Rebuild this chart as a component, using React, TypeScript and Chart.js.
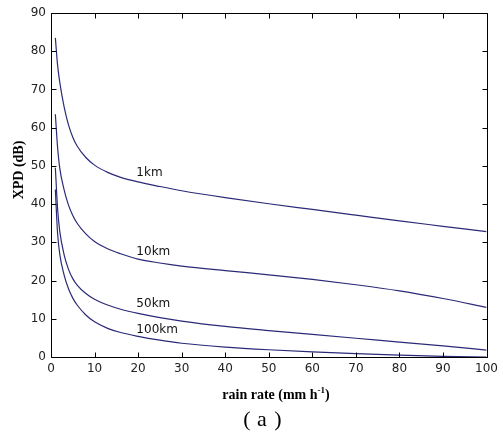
import React, { useEffect, useRef } from "react";
import { Chart, registerables } from "chart.js";

Chart.register(...registerables);

// Rain rate (mm/h)
const RAIN_RATE = [1, 1.5, 2, 3, 4, 5, 6, 8, 10, 13, 16, 20, 25, 30, 40, 50, 60, 70, 80, 90, 100];
// XPD (dB) per path length
const XPD_1KM = [83.5, 76.5, 72, 65.5, 60.8, 57.5, 55.2, 52.2, 50.2, 48.3, 47, 45.8, 44.6, 43.5, 41.7, 40.1, 38.6, 37.1, 35.6, 34.2, 32.8];
const XPD_10KM = [63.5, 55, 49.5, 43.8, 39.8, 37, 35, 32.2, 30.2, 28.3, 27, 25.6, 24.6, 23.8, 22.6, 21.5, 20.3, 18.9, 17.3, 15.3, 13];
const XPD_50KM = [49.5, 39, 33, 26.8, 23, 20.5, 18.8, 16.6, 15.1, 13.6, 12.5, 11.4, 10.3, 9.4, 8.0, 6.9, 5.9, 4.9, 3.9, 2.9, 1.8];
const XPD_100KM = [43.8, 32.5, 27, 21.5, 17.9, 15.4, 13.6, 11, 9.2, 7.5, 6.4, 5.4, 4.4, 3.6, 2.6, 1.9, 1.35, 0.9, 0.5, 0.15, 0];

const SERIES_NAMES = ["1km", "10km", "50km", "100km"];
const SERIES = [XPD_1KM, XPD_10KM, XPD_50KM, XPD_100KM];
// annotation anchors (data units) for curve labels
const LABEL_AT_X = [19.6, 19.6, 19.6, 19.6];
const LABEL_AT_Y = [48.2, 27.5, 13.9, 7.1];

const X_TICKS = [0, 10, 20, 30, 40, 50, 60, 70, 80, 90, 100];
const Y_TICKS = [0, 10, 20, 30, 40, 50, 60, 70, 80, 90];

const LINE_COLOR = "#2a2a78";
const SANS = '"DejaVu Sans", sans-serif';
const SERIF = '"Liberation Serif", "Times New Roman", serif';

const decorPlugin = {
  id: "decor",
  afterDraw(chart: any) {
    const { ctx, chartArea, scales } = chart;
    const { left, right, top, bottom } = chartArea;
    const xs = scales.x;
    const ys = scales.y;
    ctx.save();
    ctx.strokeStyle = "#000";
    ctx.lineWidth = 1;
    const L = Math.round(left) + 0.5;
    const R = Math.round(right) + 0.5;
    const T = Math.round(top) + 0.5;
    const B = Math.round(bottom) + 0.5;
    ctx.beginPath();
    ctx.rect(L, T, R - L, B - T);
    ctx.stroke();
    const tl = 5;
    ctx.beginPath();
    X_TICKS.forEach((v) => {
      const p = Math.round(xs.getPixelForValue(v)) + 0.5;
      ctx.moveTo(p, B);
      ctx.lineTo(p, B - tl);
      ctx.moveTo(p, T);
      ctx.lineTo(p, T + tl);
    });
    Y_TICKS.forEach((v) => {
      const p = Math.round(ys.getPixelForValue(v)) + 0.5;
      ctx.moveTo(L, p);
      ctx.lineTo(L + tl, p);
      ctx.moveTo(R, p);
      ctx.lineTo(R - tl, p);
    });
    ctx.stroke();

    // curve labels
    ctx.fillStyle = "#111";
    ctx.font = `12px ${SANS}`;
    ctx.textAlign = "left";
    ctx.textBaseline = "middle";
    SERIES_NAMES.forEach((n, i) => {
      ctx.fillText(n, xs.getPixelForValue(LABEL_AT_X[i]), ys.getPixelForValue(LABEL_AT_Y[i]));
    });

    // x axis title with superscript
    ctx.fillStyle = "#000";
    const mainFont = `bold 14px ${SERIF}`;
    const supFont = `bold 9px ${SERIF}`;
    const p1 = "rain rate (mm h";
    const sup = "-1";
    const p2 = ")";
    ctx.font = mainFont;
    const w1 = ctx.measureText(p1).width;
    const w3 = ctx.measureText(p2).width;
    ctx.font = supFont;
    const w2 = ctx.measureText(sup).width;
    const total = w1 + w2 + w3;
    const cx = 276;
    const by = 399;
    let sx = cx - total / 2;
    ctx.textBaseline = "alphabetic";
    ctx.font = mainFont;
    ctx.fillText(p1, sx, by);
    sx += w1;
    ctx.font = supFont;
    ctx.fillText(sup, sx, by - 6);
    sx += w2;
    ctx.font = mainFont;
    ctx.fillText(p2, sx, by);

    // (a)
    ctx.textAlign = "center";
    ctx.textBaseline = "alphabetic";
    ctx.font = `22px ${SERIF}`;
    ctx.fillText("(", 247, 426);
    ctx.fillText("a", 262, 426);
    ctx.fillText(")", 278, 426);

    // y axis title
    ctx.translate(19, 170);
    ctx.rotate(-Math.PI / 2);
    ctx.font = `bold 14px ${SERIF}`;
    ctx.textAlign = "center";
    ctx.textBaseline = "middle";
    ctx.fillText("XPD (dB)", 0, 0);
    ctx.restore();
  },
};

export default function App() {
  const ref = useRef<HTMLCanvasElement | null>(null);
  useEffect(() => {
    document.body.style.margin = "0";
    const canvas = ref.current;
    if (!canvas) return;
    const chart = new Chart(canvas, {
      type: "line",
      data: {
        datasets: SERIES.map((s, i) => ({
          label: SERIES_NAMES[i],
          data: RAIN_RATE.map((x, j) => ({ x, y: s[j] })),
          borderColor: LINE_COLOR,
          borderWidth: 1.2,
          pointRadius: 0,
          fill: false,
          cubicInterpolationMode: "monotone" as const,
        })),
      },
      options: {
        responsive: false,
        animation: false,
        events: [],
        layout: { padding: { top: 13, right: 10, left: 0, bottom: 0 } },
        plugins: { legend: { display: false }, tooltip: { enabled: false } },
        scales: {
          x: {
            type: "linear",
            min: 0,
            max: 100,
            afterFit: (s: any) => {
              s.height = 81;
            },
            afterBuildTicks: (s: any) => {
              s.ticks = X_TICKS.map((v) => ({ value: v }));
            },
            grid: { display: false, drawTicks: false },
            border: { display: false },
            ticks: {
              padding: 5,
              color: "#222",
              font: { family: SANS, size: 12 },
              maxRotation: 0,
              autoSkip: false,
            },
          },
          y: {
            type: "linear",
            min: 0,
            max: 90,
            afterFit: (s: any) => {
              s.width = 51;
            },
            afterBuildTicks: (s: any) => {
              s.ticks = Y_TICKS.map((v) => ({ value: v }));
            },
            grid: { display: false, drawTicks: false },
            border: { display: false },
            ticks: {
              padding: 5,
              color: "#222",
              font: { family: SANS, size: 12 },
              autoSkip: false,
            },
          },
        },
      },
      plugins: [decorPlugin],
    });
    return () => chart.destroy();
  }, []);
  return (
    <canvas
      ref={ref}
      width={503}
      height={438}
      style={{ position: "fixed", left: 0, top: 0, width: 503, height: 438, background: "#fff" }}
    />
  );
}
